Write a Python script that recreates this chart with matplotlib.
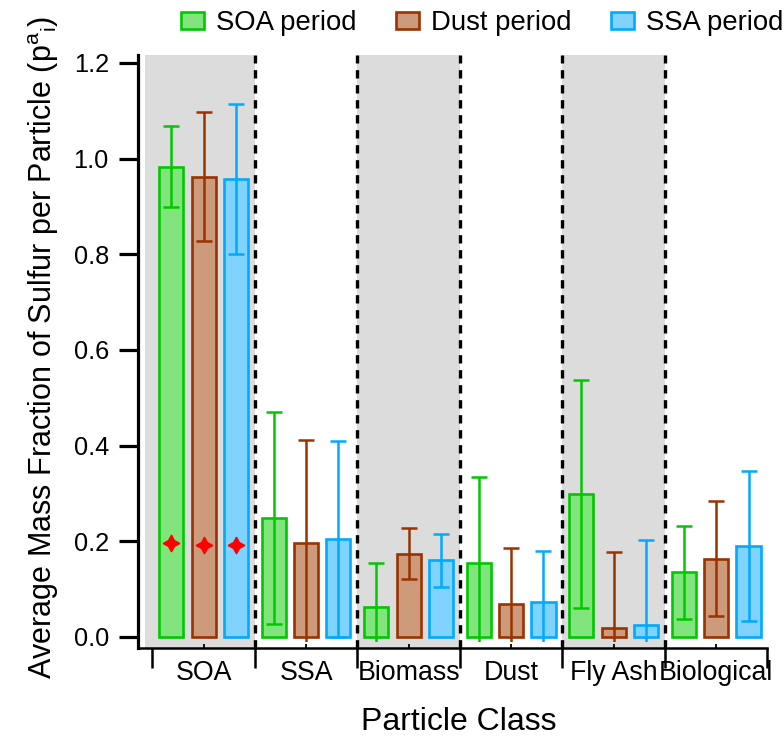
import matplotlib.pyplot as plt
import numpy as np
from matplotlib.patches import Rectangle, Patch

plt.rcParams['font.family'] = ['Liberation Sans', 'DejaVu Sans']
plt.rcParams['mathtext.fontset'] = 'custom'
plt.rcParams['mathtext.rm'] = 'Liberation Sans'
plt.rcParams['mathtext.it'] = 'Liberation Sans'

classes = ['SOA', 'SSA', 'Biomass', 'Dust', 'Fly Ash', 'Biological']
periods = ['SOA period', 'Dust period', 'SSA period']

soa_mean = [0.983, 0.249, 0.063, 0.154, 0.299, 0.135]
soa_err = [0.085, 0.222, 0.092, 0.180, 0.238, 0.097]
dust_mean = [0.962, 0.196, 0.174, 0.068, 0.018, 0.164]
dust_err = [0.135, 0.216, 0.053, 0.117, 0.160, 0.120]
ssa_mean = [0.958, 0.205, 0.160, 0.074, 0.025, 0.190]
ssa_err = [0.157, 0.205, 0.055, 0.106, 0.177, 0.157]
soa_markers = [0.196, 0.192, 0.192]  # red stars on the SOA class bars

fills = ['#82e47c', '#cd9a7c', '#80d2ff']
edges = ['#00c800', '#993300', '#00aaff']

fig = plt.figure(figsize=(7.84, 7.38), dpi=100)
ax = fig.add_axes([138 / 784, 90 / 738, (767.5 - 138) / 784, (648 - 55) / 738])

x = np.arange(len(classes))
offsets = [-0.315, 0.0, 0.315]
width = 0.235

# shaded class bands and dashed separators
for lo, hi in [(-0.573, 0.5), (1.5, 2.5), (3.5, 4.5)]:
    ax.axvspan(lo, hi, color='#dcdcdc', zorder=0, lw=0)
for b in np.arange(0.5, 5.0, 1.0):
    ax.axvline(b, color='k', lw=2.4, dashes=(2.5, 2.0), zorder=1)

clip = Rectangle((-1, -0.0104), 10, 2, transform=ax.transData)
for means, errs, off, fc, ec in zip([soa_mean, dust_mean, ssa_mean], [soa_err, dust_err, ssa_err],
                                    offsets, fills, edges):
    ax.bar(x + off, means, width, color=fc, edgecolor=ec, linewidth=1.9, zorder=2)
    eb = ax.errorbar(x + off, means, yerr=errs, fmt='none', ecolor=ec, elinewidth=1.8,
                     capsize=6, capthick=1.8, zorder=3)
    for art in list(eb.lines[1]) + list(eb.lines[2]):
        art.set_clip_path(clip)

ax.plot(x[0] + np.array(offsets), soa_markers, linestyle='none', marker=(4, 1, 0),
        markersize=12, color='red', zorder=4)

ax.set_xlim(-0.64, 5.5)
ax.set_ylim(-0.023, 1.2166)
for s in ['top', 'right']:
    ax.spines[s].set_visible(False)
ax.spines['left'].set_linewidth(2.3)
ax.spines['bottom'].set_linewidth(1.8)

ax.set_yticks(np.arange(0, 1.21, 0.2))
ax.set_yticklabels([f'{v:.1f}' for v in np.arange(0, 1.21, 0.2)])
ax.tick_params(axis='y', direction='out', length=14, width=2.3, pad=7, labelsize=18.3)

ax.set_xticks(np.arange(-0.5, 5.6, 1.0))
ax.set_xticklabels([])
ax.tick_params(axis='x', which='major', direction='out', length=14.5, width=1.8)
ax.set_xticks(x, minor=True)
ax.set_xticklabels(classes, minor=True)
ax.tick_params(axis='x', which='minor', direction='in', length=3, width=1.3, pad=8.5, labelsize=19.3)

fig.text(459 / 784, (738 - 730) / 738, 'Particle Class', fontsize=23, ha='center', va='baseline')
fig.text(52 / 784, (738 - 679) / 738,
         r'Average Mass Fraction of Sulfur per Particle (p$^{\rm a}$$_{\rm i}$)',
         fontsize=22, rotation=90, rotation_mode='anchor', ha='left', va='baseline')

handles = [Patch(facecolor=fc, edgecolor=ec, linewidth=1.9) for fc, ec in zip(fills, edges)]
fig.legend(handles, periods, loc='center left', bbox_to_anchor=(181 / 784, (738 - 23) / 738),
           ncol=3, frameon=False, fontsize=19.8, handlelength=0.84, handleheight=0.58,
           handletextpad=0.42, columnspacing=1.45, borderpad=0, borderaxespad=0)

fig.savefig('out.png', dpi=100)
